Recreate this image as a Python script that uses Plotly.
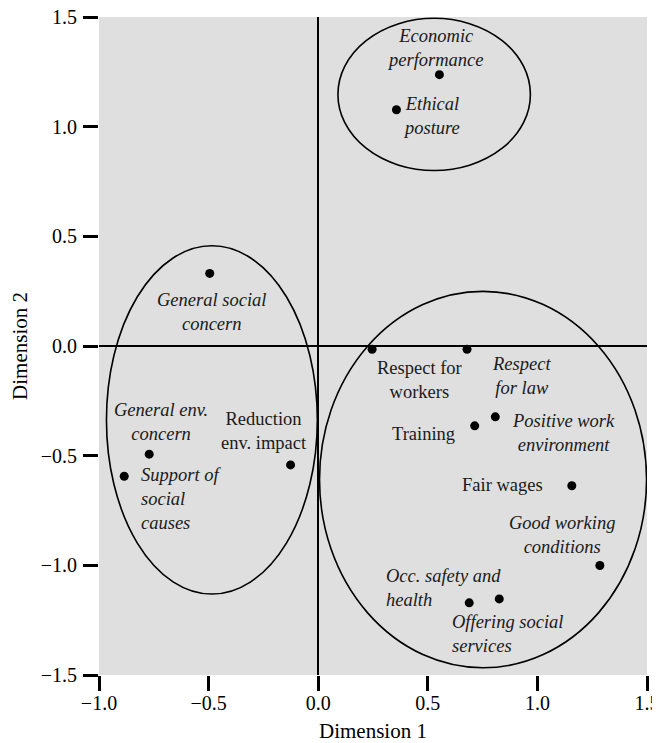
import plotly.graph_objects as go

# ---- data ----
items = ["Economic performance", "Ethical posture", "General social concern",
         "Respect for workers", "Respect for law", "General env. concern",
         "Support of social causes", "Reduction env. impact", "Training",
         "Positive work environment", "Fair wages", "Good working conditions",
         "Occ. safety and health", "Offering social services"]
dim1 = [0.553, 0.357, -0.495, 0.246, 0.679, -0.771, -0.885, -0.126, 0.714,
        0.808, 1.157, 1.285, 0.689, 0.826]
dim2 = [1.237, 1.077, 0.331, -0.015, -0.015, -0.493, -0.594, -0.542, -0.364,
        -0.323, -0.637, -1.001, -1.171, -1.153]
label_text = ["Economic<br>performance", "Ethical<br>posture", "General social<br>concern",
              "Respect for<br>workers", "Respect<br>for law", "General env.<br>concern",
              "Support of<br>social<br>causes", "Reduction<br>env. impact", "Training",
              "Positive work<br>environment", "Fair wages", "Good working<br>conditions",
              "Occ. safety and<br>health", "Offering social<br>services"]
italic = [True, True, True, False, True, True, True, False, False, True, False, True, True, True]

# cluster ellipses: centre x, centre y, half-width, half-height
ell_cx = [0.529, -0.485, 0.752]
ell_cy = [1.147, -0.337, -0.609]
ell_rx = [0.439, 0.481, 0.746]
ell_ry = [0.347, 0.794, 0.858]

x_ticks = [-1.0, -0.5, 0.0, 0.5, 1.0, 1.5]
y_ticks = [-1.5, -1.0, -0.5, 0.0, 0.5, 1.0, 1.5]

# ---- label placement (pixel offsets from the point) ----
label_pos = [  # (xshift, yshift, xanchor)
    (-4, 27, "center"), (35, -6, "center"), (2, -39, "center"),
    (47, -31, "center"), (54, -27, "center"), (12, 32, "center"),
    (15, -23, "left"), (-27, 34, "center"), (-18, -8, "right"),
    (68, -16, "center"), (-27, 1, "right"), (-38, 31, "center"),
    (-85, 15, "left"), (-49, -35, "left"),
]

FONT = "Liberation Serif, Times New Roman, serif"

fig = go.Figure()
fig.add_trace(go.Scatter(x=dim1, y=dim2, mode="markers",
                         marker=dict(color="black", size=9),
                         text=items, hoverinfo="text", showlegend=False))

for cx, cy, rx, ry in zip(ell_cx, ell_cy, ell_rx, ell_ry):
    fig.add_shape(type="circle", xref="x", yref="y",
                  x0=cx - rx, x1=cx + rx, y0=cy - ry, y1=cy + ry,
                  line=dict(color="black", width=1.6), layer="above")

for x, y, t, it, (dx, dy, xa) in zip(dim1, dim2, label_text, italic, label_pos):
    txt = "<br>".join(f"<i>{p}</i>" for p in t.split("<br>")) if it else t
    fig.add_annotation(x=x, y=y, text=txt, showarrow=False,
                       xshift=dx, yshift=dy, xanchor=xa, yanchor="middle",
                       align=xa if xa != "center" else "center",
                       font=dict(family=FONT, size=18.5, color="#1a1a1a"))

fig.update_layout(
    width=660, height=735,
    margin=dict(l=91, r=21, t=9, b=68),
    paper_bgcolor="white", plot_bgcolor="#dfdfdf",
    font=dict(family=FONT, size=18, color="black"),
)
fig.update_xaxes(range=[-1.0, 1.5], tickvals=x_ticks, tickformat=".1f",
                 automargin=False, ticklabeloverflow="allow",
                 showgrid=False, showline=False, zeroline=True,
                 zerolinecolor="black", zerolinewidth=2,
                 ticks="outside", ticklen=15, tickwidth=2.5, tickcolor="black",
                 ticklabelstandoff=-5,
                 tickfont=dict(size=20),
                 title=dict(text="Dimension 1", font=dict(size=21), standoff=10))
fig.update_yaxes(range=[-1.5, 1.5], tickvals=y_ticks, tickformat=".1f",
                 automargin=False, ticklabeloverflow="allow",
                 showgrid=False, showline=False, zeroline=True,
                 zerolinecolor="black", zerolinewidth=2,
                 ticks="outside", ticklen=15, tickwidth=2.5, tickcolor="black",
                 ticklabelstandoff=2,
                 tickfont=dict(size=20),
                 title=dict(text="Dimension 2", font=dict(size=21), standoff=20))

fig.write_html("out.html")
